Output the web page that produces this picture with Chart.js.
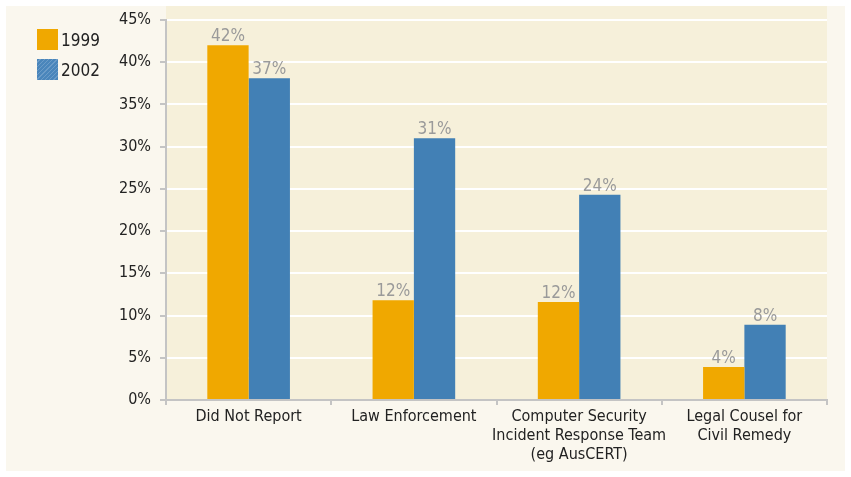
<!DOCTYPE html>
<html>
<head>
<meta charset="utf-8">
<script src="https://cdn.jsdelivr.net/npm/chart.js@4"></script>
<style>
  body { margin: 0; background: #ffffff; }
  .panel { position: absolute; left: 6px; top: 6px; width: 839px; height: 465px; background: #faf7ee; }
  canvas { position: absolute; left: 0; top: 0; }
  .legend { position: absolute; left: 31px; top: 23px; font-family: 'Liberation Sans Narrow', 'DejaVu Sans Condensed', sans-serif; font-size: 17px; color: #222; }
  .legend div { height: 30px; line-height: 22px; }
  .legend span { display: inline-block; width: 21px; height: 21px; vertical-align: top; margin-right: 3px; }
  .sw1999 { background: #f0a800; }
  .sw2002 { background: repeating-linear-gradient(135deg, #4a86bb 0 2px, #6b9cc8 2px 3px); }
</style>
</head>
<body>
<div class="panel">
  <canvas id="chart" width="839" height="465"></canvas>
  <div class="legend">
    <div><span class="sw1999"></span>1999</div>
    <div><span class="sw2002"></span>2002</div>
  </div>
</div>
<script>
let categories = [
  'Did Not Report',
  'Law Enforcement',
  ['Computer Security', 'Incident Response Team', '(eg AusCERT)'],
  ['Legal Cousel for', 'Civil Remedy']
];
let values1999 = [42, 11.8, 11.6, 3.9];
let values2002 = [38.1, 31, 24.3, 8.9];
let labels1999 = ['42%', '12%', '12%', '4%'];
let labels2002 = ['37%', '31%', '24%', '8%'];

let fontFamily = "'Liberation Sans Narrow', 'DejaVu Sans Condensed', sans-serif";

// plot background, taller than the 45% line
let plotBg = {
  id: 'plotBg',
  beforeDraw: function(chart) {
    let a = chart.chartArea;
    let ctx = chart.ctx;
    ctx.save();
    ctx.fillStyle = '#f6f0da';
    ctx.fillRect(a.left, 0, a.right - a.left, a.bottom);
    ctx.restore();
  }
};

// percent labels above bars
let barLabels = {
  id: 'barLabels',
  afterDatasetsDraw: function(chart) {
    let ctx = chart.ctx;
    let texts = [labels1999, labels2002];
    ctx.save();
    ctx.font = '17px ' + fontFamily;
    ctx.fillStyle = '#9a9a9a';
    ctx.textAlign = 'center';
    ctx.textBaseline = 'bottom';
    chart.data.datasets.forEach(function(ds, i) {
      chart.getDatasetMeta(i).data.forEach(function(bar, j) {
        ctx.fillText(texts[i][j], bar.x, bar.y);
      });
    });
    ctx.restore();
  }
};

let chart = new Chart(document.getElementById('chart'), {
  type: 'bar',
  data: {
    labels: categories,
    datasets: [
      { label: '1999', data: values1999, backgroundColor: '#f0a800' },
      { label: '2002', data: values2002, backgroundColor: '#4280b5' }
    ]
  },
  options: {
    responsive: false,
    animation: false,
    layout: { padding: { top: 14, right: 18, left: 0, bottom: 0 } },
    datasets: { bar: { categoryPercentage: 0.5, barPercentage: 1.0 } },
    plugins: { legend: { display: false }, tooltip: { enabled: false } },
    scales: {
      x: {
        grid: { offset: true, drawOnChartArea: false, drawTicks: true, tickLength: 5, tickColor: '#c4c4c4', lineWidth: 2 },
        border: { display: true, color: '#c4c4c4', width: 2 },
        ticks: { color: '#222', font: { family: fontFamily, size: 16 }, padding: 2, maxRotation: 0, autoSkip: false },
        afterFit: function(scale) { scale.height = 71; }
      },
      y: {
        min: 0,
        max: 45,
        grid: { color: '#ffffff', lineWidth: 2, drawTicks: true, tickLength: 6, tickColor: '#c4c4c4' },
        border: { display: true, color: '#c4c4c4', width: 2 },
        ticks: { stepSize: 5, color: '#222', font: { family: fontFamily, size: 16 }, padding: 9,
          callback: function(v) { return v + '%'; } },
        afterFit: function(scale) {
          scale.width = 160;
          scale.paddingTop = 0;
          scale.paddingBottom = 0;
        }
      }
    }
  },
  plugins: [plotBg, barLabels]
});
</script>
</body>
</html>
